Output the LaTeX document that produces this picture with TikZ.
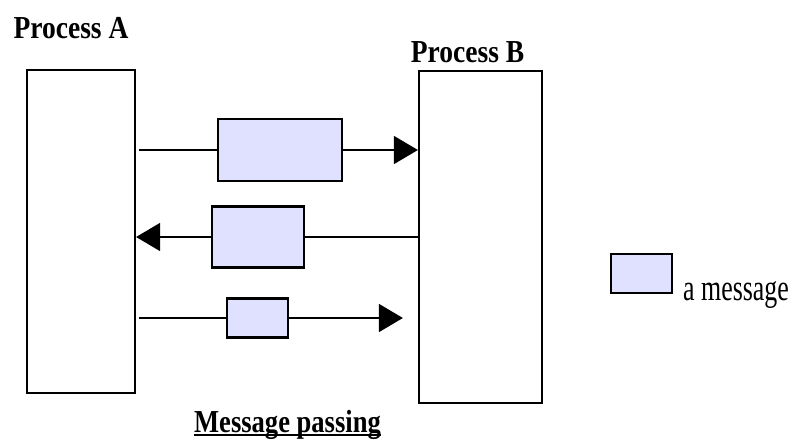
\documentclass[tikz,border=0pt]{standalone}
\usepackage{fontspec}
\setmainfont{Liberation Serif}
\usetikzlibrary{arrows.meta}
\definecolor{msgfill}{RGB}{224,224,255}
\newcommand{\thickuline}[1]{{\setbox0\hbox{#1}\rlap{\copy0}\rule[-3.5pt]{\wd0}{1.8pt}}}
\begin{document}
\begin{tikzpicture}[x=1pt, y=-1pt,
		proc/.style={draw, line width=2.2pt, inner sep=0pt},
		msg/.style={draw, line width=2.2pt, fill=msgfill, inner sep=0pt},
		link/.style={line width=1.5pt},
		msgarrow/.style={line width=1.5pt, -{Triangle[length=24pt,width=28pt]}},
		title/.style={inner sep=0pt, font=\bfseries\fontsize{32}{32}\selectfont}]
	\useasboundingbox (0,0) rectangle (797,439);
	% the two processes
	\node[proc, minimum width=108pt, minimum height=323pt] (procA) at (81,231.5) {};
	\node[proc, minimum width=123pt, minimum height=332pt] (procB) at (480.5,237) {};
	\node[title, anchor=base] (labA) at (71,38) {\scalebox{0.86}[1]{Process A}};
	\node[title, anchor=base] (labB) at (467.5,62) {\scalebox{0.86}[1]{Process B}};
	% messages
	\node[msg, minimum width=124pt, minimum height=62pt] (m1) at (280,150) {};
	\node[msg, minimum width=92pt, minimum height=61pt] (m2) at (258,237) {};
	\node[msg, minimum width=61pt, minimum height=39pt] (m3) at (257.5,318) {};
	\draw[link] ([xshift=3pt]procA.east |- m1.west) -- (m1.west);
	\draw[msgarrow] (m1.east) -- (procB.west |- m1.east);
	\draw[link] (procB.west |- m2.east) -- (m2.east);
	\draw[msgarrow] (m2.west) -- (procA.east |- m2.west);
	\draw[link] ([xshift=3pt]procA.east |- m3.west) -- (m3.west);
	\coordinate (m3end) at ([xshift=-15pt]procB.west |- m3.east);
	\draw[msgarrow] (m3.east) -- (m3end);
	% legend
	\node[msg, minimum width=61pt, minimum height=39pt] (key) at (641.5,273.5) {};
	\node[anchor=base west, inner sep=0pt, font=\fontsize{37}{37}\selectfont] (keytext) at (683,300) {\scalebox{0.70}[1]{a message}};
	\node[title, anchor=base] (caption) at (287.5,432) {\scalebox{0.83}[1]{\thickuline{Message passing}}};
\end{tikzpicture}
\end{document}
